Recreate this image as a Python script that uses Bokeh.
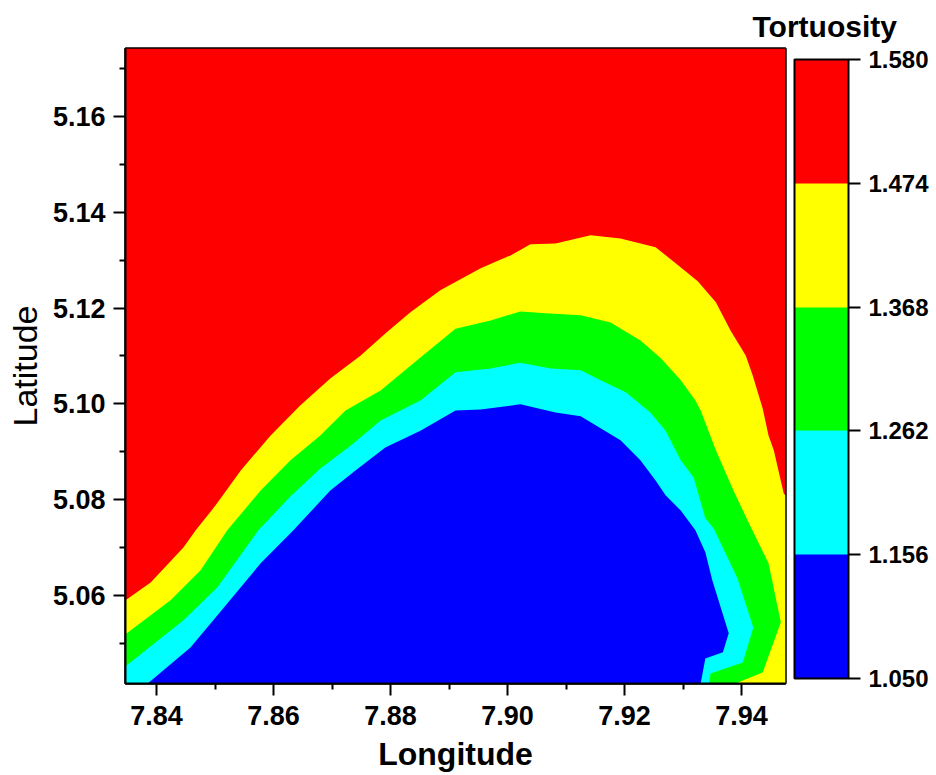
from bokeh.plotting import figure
from bokeh.models import (FixedTicker, LinearColorMapper, ColorBar, Title, Range1d,
                          PrintfTickFormatter)
from bokeh.embed import file_html
from bokeh.resources import INLINE

# ---------------- data ----------------
X_RANGE = (7.8347, 7.9475)
Y_RANGE = (5.0416, 5.1742)

levels = [1.050, 1.156, 1.262, 1.368, 1.474, 1.580]
band_colors = ["#0000FF", "#00FFFF", "#00FF00", "#FFFF00", "#FF0000"]

x_ticks = [7.84, 7.86, 7.88, 7.90, 7.92, 7.94]
x_minor = [7.85, 7.87, 7.89, 7.91, 7.93]
y_ticks = [5.06, 5.08, 5.10, 5.12, 5.14, 5.16]
y_minor = [5.05, 5.07, 5.09, 5.11, 5.13, 5.15, 5.17]

# contour line 1.474 (red / yellow)
c1474_lon = [7.8347, 7.8390, 7.8446, 7.8467, 7.8501, 7.8544, 7.8595, 7.8646, 7.8697,
             7.8749, 7.8791, 7.8834, 7.8885, 7.8954, 7.9005, 7.9039, 7.9082, 7.9142,
             7.9193, 7.9253, 7.9292, 7.9325, 7.9356, 7.9381, 7.9407, 7.9419, 7.9436,
             7.9446, 7.9455, 7.9472, 7.9475]
c1474_lat = [5.0590, 5.0627, 5.0700, 5.0736, 5.0788, 5.0861, 5.0934, 5.0997, 5.1053,
             5.1101, 5.1147, 5.1191, 5.1237, 5.1283, 5.1310, 5.1333, 5.1335, 5.1352,
             5.1345, 5.1327, 5.1289, 5.1256, 5.1212, 5.1153, 5.1101, 5.1059, 5.0990,
             5.0934, 5.0903, 5.0813, 5.0809]

# contour line 1.368 (yellow / green)
c1368_lon = [7.8347, 7.8424, 7.8475, 7.8521, 7.8578, 7.8629, 7.8680, 7.8723, 7.8783,
             7.8851, 7.8911, 7.8971, 7.9022, 7.9065, 7.9125, 7.9176, 7.9227, 7.9262,
             7.9296, 7.9321, 7.9330, 7.9356, 7.9386, 7.9410, 7.9446, 7.9467, 7.9436,
             7.9403, 7.9390]
c1368_lat = [5.0519, 5.0590, 5.0652, 5.0736, 5.0819, 5.0882, 5.0934, 5.0986, 5.1028,
             5.1097, 5.1157, 5.1174, 5.1193, 5.1189, 5.1185, 5.1170, 5.1132, 5.1095,
             5.1049, 5.1007, 5.0986, 5.0903, 5.0819, 5.0757, 5.0667, 5.0544, 5.0439,
             5.0423, 5.0416]

# contour line 1.262 (green / cyan)
c1262_lon = [7.8347, 7.8446, 7.8504, 7.8574, 7.8629, 7.8680, 7.8732, 7.8783, 7.8851,
             7.8911, 7.8971, 7.9022, 7.9074, 7.9125, 7.9159, 7.9202, 7.9244, 7.9270,
             7.9296, 7.9318, 7.9338, 7.9352, 7.9393, 7.9420, 7.9402, 7.9347, 7.9344]
c1262_lat = [5.0452, 5.0548, 5.0617, 5.0736, 5.0807, 5.0865, 5.0913, 5.0965, 5.1007,
             5.1066, 5.1074, 5.1086, 5.1074, 5.1070, 5.1049, 5.1024, 5.0982, 5.0944,
             5.0882, 5.0846, 5.0761, 5.0740, 5.0635, 5.0533, 5.0460, 5.0437, 5.0416]

# contour line 1.156 (cyan / blue)
c1156_lon = [7.8385, 7.8458, 7.8497, 7.8578, 7.8634, 7.8697, 7.8740, 7.8791, 7.8851,
             7.8911, 7.8954, 7.9022, 7.9082, 7.9125, 7.9159, 7.9193, 7.9227, 7.9253,
             7.9270, 7.9296, 7.9321, 7.9338, 7.9350, 7.9378, 7.9368, 7.9338, 7.9330]
c1156_lat = [5.0416, 5.0491, 5.0548, 5.0667, 5.0736, 5.0819, 5.0861, 5.0909, 5.0944,
             5.0986, 5.0988, 5.0999, 5.0982, 5.0974, 5.0949, 5.0924, 5.0882, 5.0840,
             5.0809, 5.0777, 5.0736, 5.0690, 5.0631, 5.0521, 5.0481, 5.0468, 5.0416]

FONT = "Liberation Sans"


def region_below(lon, lat):
    """Close a contour line along the frame edges to the region underneath it."""
    xs, ys = list(lon), list(lat)
    eps = 1e-6
    if xs[-1] >= X_RANGE[1] - eps:
        xs.append(X_RANGE[1]); ys.append(Y_RANGE[0])
    if xs[0] <= X_RANGE[0] + eps:
        xs.append(X_RANGE[0]); ys.append(Y_RANGE[0])
    return xs, ys


p = figure(width=936, height=775, output_backend="svg", toolbar_location=None,
           x_range=Range1d(*X_RANGE), y_range=Range1d(*Y_RANGE),
           min_border_left=125, min_border_right=151, min_border_top=48,
           min_border_bottom=92)

# top band as background
p.quad(left=[X_RANGE[0]], right=[X_RANGE[1]], bottom=[Y_RANGE[0]], top=[Y_RANGE[1]],
       fill_color=band_colors[4], line_color=None)

for (lon, lat), col in zip([(c1474_lon, c1474_lat), (c1368_lon, c1368_lat),
                            (c1262_lon, c1262_lat), (c1156_lon, c1156_lat)],
                           [band_colors[3], band_colors[2], band_colors[1], band_colors[0]]):
    xs, ys = region_below(lon, lat)
    p.patch(xs, ys, fill_color=col, line_color=None)

p.xgrid.visible = False
p.ygrid.visible = False
p.outline_line_color = "black"
p.outline_line_width = 2.5

p.xaxis.ticker = FixedTicker(ticks=x_ticks, minor_ticks=x_minor)
p.yaxis.ticker = FixedTicker(ticks=y_ticks, minor_ticks=y_minor)
p.xaxis.formatter = PrintfTickFormatter(format="%.2f")
p.yaxis.formatter = PrintfTickFormatter(format="%.2f")

for ax in (p.xaxis, p.yaxis):
    ax.axis_line_color = "black"
    ax.axis_line_width = 2
    ax.major_tick_line_color = "black"
    ax.major_tick_line_width = 2
    ax.minor_tick_line_color = "black"
    ax.minor_tick_line_width = 2
    ax.major_tick_out = 12
    ax.major_tick_in = 0
    ax.minor_tick_out = 6
    ax.minor_tick_in = 0
    ax.major_label_text_font = FONT
    ax.major_label_text_font_style = "bold"
    ax.major_label_text_font_size = "27px"
    ax.major_label_text_color = "black"
    ax.axis_label_text_font = FONT
    ax.axis_label_text_color = "black"
    ax.major_label_standoff = 8
    ax.axis_label_standoff = 8

p.xaxis.major_label_standoff = 10
p.xaxis.axis_label = "Longitude"
p.xaxis.axis_label_text_font_style = "bold"
p.xaxis.axis_label_text_font_size = "32px"
p.yaxis.axis_label = "Latitude"
p.yaxis.axis_label_text_font_style = "normal"
p.yaxis.axis_label_text_font_size = "34px"
p.yaxis.axis_label_standoff = 6

mapper = LinearColorMapper(palette=band_colors, low=levels[0], high=levels[-1])
cb = ColorBar(color_mapper=mapper, ticker=FixedTicker(ticks=levels),
              formatter=PrintfTickFormatter(format="%.3f"),
              width=54, height=619, location=(9, 5), padding=0, margin=0,
              major_tick_out=12, major_tick_in=0, major_tick_line_color="black",
              major_tick_line_width=2, minor_tick_line_color=None,
              bar_line_color="black", bar_line_width=2, label_standoff=8,
              major_label_text_font=FONT, major_label_text_font_style="bold",
              major_label_text_font_size="24px", major_label_text_color="black",
              background_fill_color=None, border_line_color=None)
p.add_layout(cb, "right")

p.add_layout(Title(text="Tortuosity", align="left", offset=627, standoff=11,
                   text_font=FONT, text_font_style="bold", text_font_size="30px",
                   text_color="black"), "above")

open("out.html", "w").write(file_html(p, INLINE))
